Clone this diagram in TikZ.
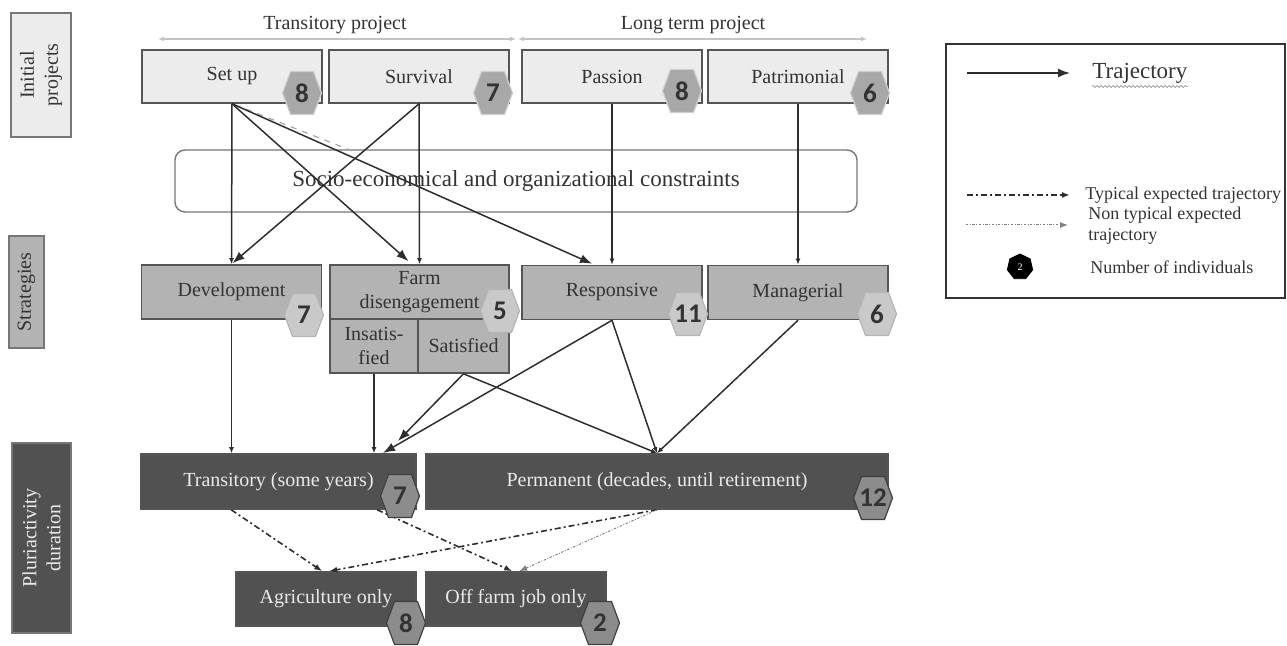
\documentclass[tikz,border=0pt]{standalone}
\usepackage{fontspec}
\setmainfont{Liberation Serif}
\newfontfamily\badgefont{Carlito}
\usetikzlibrary{arrows.meta,calc,shapes.geometric,decorations.pathmorphing}
\definecolor{lightbox}{HTML}{ECECEC}
\definecolor{midbox}{HTML}{B3B3B3}
\definecolor{darkbox}{HTML}{515151}
\definecolor{boxline}{HTML}{555555}
\definecolor{textdark}{HTML}{333333}
\definecolor{textlight}{HTML}{EAEAEA}
\definecolor{linecol}{HTML}{2E2E2E}
\definecolor{toparrow}{HTML}{C4C4C4}
\definecolor{badgeA}{HTML}{A8A8A8}
\definecolor{badgeB}{HTML}{C9C9C9}
\definecolor{badgeC}{HTML}{8C8C8C}
\newcommand{\hexbadge}[5]{%
  \begin{scope}[shift={(#2)}]
    \path[fill=#4,draw=#5,line width=0.6pt] (-19.5,0) -- (-11.5,-21.5) -- (11.5,-21.5) -- (19.5,0) -- (11.5,21.5) -- (-11.5,21.5) -- cycle;
    \node[badgenum] (#1) at (0,0) {#3};
  \end{scope}}
\begin{document}
\begin{tikzpicture}[x=0.5pt,y=-0.5pt,
  box/.style={draw=boxline, line width=0.8pt, inner sep=0pt, align=center,
    font=\fontsize{10}{12}\selectfont, text=textdark},
  topbox/.style={box, fill=lightbox, minimum width=90pt, minimum height=26.5pt},
  stratbox/.style={box, fill=midbox, minimum width=90pt, minimum height=27pt},
  durbox/.style={box, fill=darkbox, text=textlight, minimum height=27.5pt},
  sidelabel/.style={box, rotate=90, draw=boxline!80, line width=0.7pt},
  badgenum/.style={font=\badgefont\bfseries\fontsize{13.5}{13.5}\selectfont, text=textdark, inner sep=0pt},
  traj/.style={draw=linecol, line width=0.75pt, -{Latex[length=6pt,width=4.5pt]}},
  trajs/.style={draw=linecol, line width=0.75pt, -{Latex[length=3pt,width=2.5pt]}},
  typical/.style={draw=linecol, line width=0.8pt, dash pattern=on 3pt off 1.5pt on 1pt off 1.5pt, -{Latex[length=4pt,width=3pt]}},
  nontyp/.style={draw=gray, line width=0.5pt, dash pattern=on 1.2pt off 0.8pt on 0.4pt off 0.8pt, -{Latex[length=4pt,width=3pt]}},
  toparr/.style={draw=toparrow, line width=0.8pt, {Latex[length=3pt,width=2.5pt]}-{Latex[length=3pt,width=2.5pt]}},
  legtext/.style={anchor=west, inner sep=0pt, align=left, text=textdark, font=\fontsize{9}{10.5}\selectfont}
]
\useasboundingbox (0,0) rectangle (1287,646);

% side labels
\node[sidelabel, fill=lightbox, minimum width=62pt, minimum height=30pt] (lab1) at (41,75) {Initial\\projects};
\node[sidelabel, fill=midbox, minimum width=56pt, minimum height=17.5pt] (lab2) at (26.5,292) {Strategies};
\node[sidelabel, fill=darkbox, text=textlight, minimum width=95pt, minimum height=29.5pt] (lab3) at (41.5,538) {Pluriactivity\\duration};

% project span arrows
\coordinate (ta1) at (158,39);
\coordinate (ta2) at (516,39);
\coordinate (tb1) at (518,39);
\coordinate (tb2) at (867,39);
\draw[toparr] (ta1) -- (ta2);
\draw[toparr] (tb1) -- (tb2);
\node[text=textdark, font=\fontsize{10}{12}\selectfont] (tp) at (335,25) {Transitory project};
\node[text=textdark, font=\fontsize{10}{12}\selectfont] (lp) at (693,25) {Long term project};

% initial projects
\node[topbox] (setup) at (232,76.5) {Set up};
\node[topbox] (surv) at (419,76.5) {Survival};
\node[topbox] (pass) at (612,76.5) {Passion};
\node[topbox] (patr) at (798,76.5) {Patrimonial};

% constraints
\node[draw=boxline!80, line width=0.7pt, rounded corners=5pt, minimum width=341pt, minimum height=31pt,
  text=textdark, font=\fontsize{11.5}{13}\selectfont, inner sep=0pt] (cons) at (516,181) {Socio-economical and organizational constraints};

% strategies
\node[stratbox] (devel) at (231.5,292) {Development};
\node[stratbox, minimum width=89.5pt] (farm) at (419.5,292) {Farm\\disengagement};
\node[stratbox, minimum width=44pt] (insat) at (374,346) {Insatis-\\fied};
\node[stratbox, minimum width=45.5pt] (satis) at (463.5,346) {Satisfied};
\node[stratbox] (resp) at (612,292.5) {Responsive};
\node[stratbox] (manag) at (798,292.5) {Managerial};

% durations
\node[durbox, minimum width=137.5pt] (trans) at (278.5,481.5) {Transitory (some years)};
\node[durbox, minimum width=231pt] (perm) at (657,481.5) {Permanent (decades, until retirement)};
\node[durbox, minimum width=90pt, minimum height=27pt] (agri) at (326,599) {Agriculture only};
\node[durbox, minimum width=90pt, minimum height=27pt] (off) at (516,599) {Off farm job only};

% trajectories: projects -> strategies
\coordinate (gd) at (355,152);
\draw[draw=gray!70, line width=0.6pt, dashed] ($(setup.south)+(3,1)$) -- (gd);
\draw[trajs] (setup.south) -- (devel.north);
\draw[traj] (setup.south) -- ($(farm.north)+(-11,-3)$);
\draw[traj] (setup.south) -- ($(resp.north)+(-20,-1)$);
\draw[trajs] (surv.south) -- (farm.north);
\draw[traj] (surv.south) -- ($(devel.north)+(1,-1)$);
\draw[trajs] (pass.south) -- (resp.north);
\draw[trajs] (patr.south) -- (manag.north);

% strategies -> durations
\coordinate (tA) at (398,441);
\coordinate (tB) at (383,453);
\draw[trajs] (devel.south) -- (devel.south |- trans.north);
\draw[trajs] (insat.south) -- (insat.south |- trans.north);
\draw[traj] (satis.south) -- (tA);
\draw[traj] (resp.south) -- (tB);
\draw[trajs] (satis.south) -- (perm.north);
\draw[trajs] (resp.south) -- (perm.north);
\draw[trajs] (manag.south) -- (perm.north);

% durations -> outcomes
\draw[typical] ($(trans.south west)+(91,0)$) -- ($(agri.north west)+(87,0)$);
\draw[typical] ($(trans.south west)+(237,0)$) -- ($(off.north west)+(87,0)$);
\draw[typical] (perm.south) -- ($(agri.north west)+(94,0)$);
\draw[nontyp] (perm.south) -- ($(off.north west)+(94,0)$);

% badges
\hexbadge{nsetup}{302,93}{8}{badgeA}{badgeA!80!black!40!white}
\hexbadge{nsurv}{493,93}{7}{badgeA}{badgeA!80!black!40!white}
\hexbadge{npass}{682,91}{8}{badgeA}{badgeA!80!black!40!white}
\hexbadge{npatr}{870,93}{6}{badgeA}{badgeA!80!black!40!white}
\hexbadge{ndevel}{304,315}{7}{badgeB}{badgeB!90!black}
\hexbadge{nfarm}{500,311}{5}{badgeB}{badgeB!90!black}
\hexbadge{nresp}{688,314}{11}{badgeB}{badgeB!90!black}
\hexbadge{nmanag}{877,314}{6}{badgeB}{badgeB!90!black}
\hexbadge{ntrans}{400,496}{7}{badgeC}{black!75}
\hexbadge{nperm}{873,498}{12}{badgeC}{black!75}
\hexbadge{nagri}{406,623}{8}{badgeC}{black!75}
\hexbadge{noff}{600,623}{2}{badgeC}{black!75}

% legend
\node[draw=black!80, line width=1.1pt, minimum width=169.5pt, minimum height=127pt, inner sep=0pt] (legend) at (1115.5,171) {};
\coordinate (l1a) at (967,73);
\coordinate (l1b) at (1070,73);
\draw[traj] (l1a) -- (l1b);
\node[legtext, font=\fontsize{11.5}{13}\selectfont] (lt1) at (1092,73) {Trajectory};
\draw[draw=gray!70, line width=0.4pt, decorate, decoration={snake, amplitude=0.5pt, segment length=2pt}]
  ($(lt1.south west)+(0,3)$) -- ($(lt1.south east)+(0,3)$);
\coordinate (l2a) at (967,195);
\coordinate (l2b) at (1070,195);
\draw[typical] (l2a) -- (l2b);
\node[legtext] (lt2) at (1085,195) {Typical expected trajectory};
\coordinate (l3a) at (966,225);
\coordinate (l3b) at (1068,225);
\draw[nontyp] (l3a) -- (l3b);
\node[legtext] (lt3) at (1088,226) {Non typical expected\\trajectory};
\node[regular polygon, regular polygon sides=7, fill=black, draw=black, minimum size=13pt, inner sep=0pt,
  text=white, font=\fontsize{5}{5}\selectfont] (lhex) at (1020,267) {2};
\node[legtext] (lt4) at (1090,267) {Number of individuals};
\end{tikzpicture}
\end{document}
